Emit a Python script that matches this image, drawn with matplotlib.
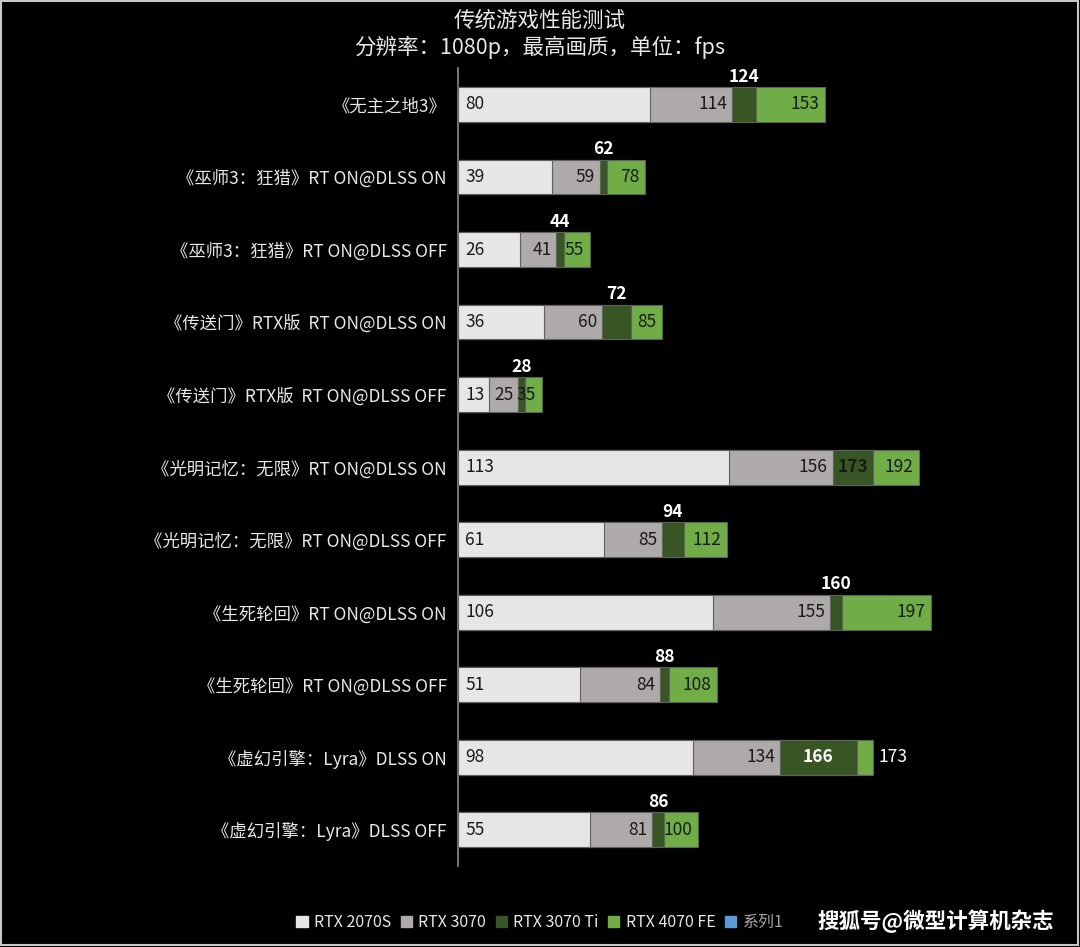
import matplotlib
matplotlib.use('Agg')
import matplotlib.pyplot as plt
from matplotlib.patches import Rectangle
import numpy as np

plt.rcParams['font.family'] = ['Noto Sans CJK SC', 'DejaVu Sans']

games = ['《无主之地3》',
         '《巫师3：狂猎》RT ON@DLSS ON',
         '《巫师3：狂猎》RT ON@DLSS OFF',
         '《传送门》RTX版  RT ON@DLSS ON',
         '《传送门》RTX版  RT ON@DLSS OFF',
         '《光明记忆：无限》RT ON@DLSS ON',
         '《光明记忆：无限》RT ON@DLSS OFF',
         '《生死轮回》RT ON@DLSS ON',
         '《生死轮回》RT ON@DLSS OFF',
         '《虚幻引擎：Lyra》DLSS ON',
         '《虚幻引擎：Lyra》DLSS OFF']
rtx2070s = [80, 39, 26, 36, 13, 113, 61, 106, 51, 98, 55]
rtx3070 = [114, 59, 41, 60, 25, 156, 85, 155, 84, 134, 81]
rtx3070ti = [124, 62, 44, 72, 28, 173, 94, 160, 88, 166, 86]
rtx4070fe = [153, 78, 55, 85, 35, 192, 112, 197, 108, 173, 100]
series_names = ['RTX 2070S', 'RTX 3070', 'RTX 3070 Ti', 'RTX 4070 FE', '系列1']
colors = ['#E7E6E6', '#AEAAAA', '#375623', '#70AD47', '#5B9BD5']

fig = plt.figure(figsize=(10.8, 9.47), dpi=100, facecolor='black')
ax = fig.add_axes([0.424, 0.0855, 0.556, 0.8425], facecolor='black')

y = np.arange(len(games))
h = 0.48
edge = '#606060'
# overlapping bars, longest drawn first
ax.barh(y, rtx4070fe, h, color=colors[3], edgecolor=edge, linewidth=0.8, zorder=2)
ax.barh(y, rtx3070ti, h, color=colors[2], edgecolor=edge, linewidth=0.8, zorder=3)
ax.barh(y, rtx3070, h, color=colors[1], edgecolor=edge, linewidth=0.8, zorder=4)
ax.barh(y, rtx2070s, h, color=colors[0], edgecolor=edge, linewidth=0.8, zorder=5)

ax.set_xlim(0, 250)
ax.set_ylim(len(games) - 0.5, -0.5)
ax.set_yticks(y)
ax.set_yticklabels(games, color='#E8E8E8', fontsize=12.5)
ax.tick_params(axis='y', length=0, pad=8)
ax.set_xticks([])
for s in ['top', 'right', 'bottom']:
    ax.spines[s].set_visible(False)
ax.spines['left'].set_color('#8C8C8C')
ax.spines['left'].set_linewidth(1.2)

fs = 12.5
dark = '#1A1A1A'
for i in range(len(games)):
    ax.text(3, i, str(rtx2070s[i]), va='center', ha='left', fontsize=fs, color=dark, zorder=6)
    ax.text(rtx3070[i] - 2, i, str(rtx3070[i]), va='center', ha='right', fontsize=fs, color=dark, zorder=6)
    mid = (rtx3070[i] + rtx3070ti[i]) / 2
    ti_inside = rtx3070ti[i] - rtx3070[i] > 15
    if ti_inside:
        c = dark if rtx3070ti[i] == 173 else 'white'
        ax.text(mid, i, str(rtx3070ti[i]), va='center', ha='center', fontsize=fs,
                color=c, fontweight='bold', zorder=6)
    else:
        ax.text(mid, i - h / 2 - 0.02, str(rtx3070ti[i]), va='bottom', ha='center', fontsize=fs,
                color='white', fontweight='bold', zorder=6)
    if ti_inside and rtx4070fe[i] - rtx3070ti[i] < 10:
        ax.text(rtx4070fe[i] + 2, i, str(rtx4070fe[i]), va='center', ha='left', fontsize=fs,
                color='white', zorder=6)
    else:
        ax.text(rtx4070fe[i] - 2.5, i, str(rtx4070fe[i]), va='center', ha='right', fontsize=fs,
                color=dark, zorder=6)

fig.text(0.5, 0.978, '传统游戏性能测试', ha='center', va='center', fontsize=15.5, color='#E8E8E8')
fig.text(0.5, 0.950, '分辨率：1080p，最高画质，单位：fps', ha='center', va='center', fontsize=15.5, color='#E8E8E8')

handles = [Rectangle((0, 0), 1, 1, color=c) for c in colors]
leg = fig.legend(handles, series_names, loc='center', bbox_to_anchor=(0.5, 0.026), ncol=5,
                 frameon=False, fontsize=11.5, handlelength=0.7, handleheight=0.7,
                 handletextpad=0.4, columnspacing=0.6)
for t in leg.get_texts():
    t.set_color('#E8E8E8')
leg.get_texts()[-1].set_color('#A6A6A6')

fig.text(0.976, 0.027, '搜狐号@微型计算机杂志', ha='right', va='center', fontsize=15.5,
         color='white', fontweight='bold')

fig.patches.append(Rectangle((0.001, 0.002), 0.997, 0.997, transform=fig.transFigure,
                             fill=False, edgecolor='#C8C8C8', linewidth=1.5))

fig.savefig('out.png', dpi=100, facecolor='black')
